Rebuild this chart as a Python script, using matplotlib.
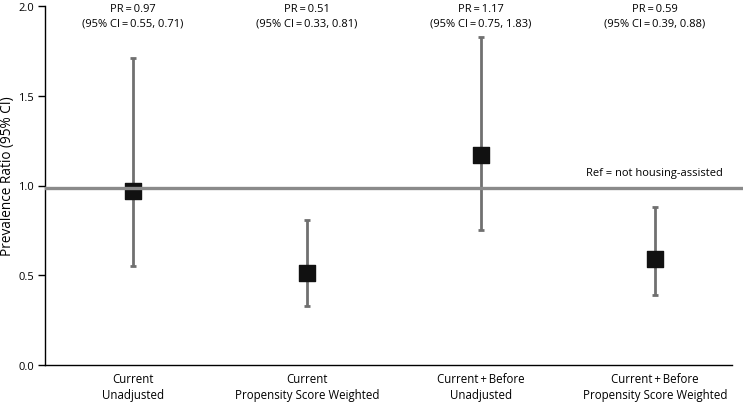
import matplotlib
matplotlib.use("Agg")
import matplotlib.pyplot as plt

categories = ["Current\nUnadjusted", "Current\nPropensity Score Weighted",
              "Current\u2009+\u2009Before\nUnadjusted", "Current\u2009+\u2009Before\nPropensity Score Weighted"]
pr = [0.97, 0.51, 1.17, 0.59]
ci_low = [0.55, 0.33, 0.75, 0.39]
ci_high = [1.71, 0.81, 1.83, 0.88]
labels = ["PR\u2009=\u20090.97\n(95% CI\u2009=\u20090.55, 0.71)", "PR\u2009=\u20090.51\n(95% CI\u2009=\u20090.33, 0.81)",
          "PR\u2009=\u20091.17\n(95% CI\u2009=\u20090.75, 1.83)", "PR\u2009=\u20090.59\n(95% CI\u2009=\u20090.39, 0.88)"]
ref_value = 0.985
yticks = [0.0, 0.5, 1.0, 1.5, 2.0]

plt.rcParams['font.family'] = ['Open Sans', 'DejaVu Sans']

fig = plt.figure(figsize=(7.45, 4.06), dpi=100)
ax = fig.add_axes([45/745, 1 - 366/406, (743-45)/745, (366-7)/406])

x = list(range(len(categories)))
yerr = [[p - l for p, l in zip(pr, ci_low)], [h - p for p, h in zip(pr, ci_high)]]
ax.errorbar(x, pr, yerr=yerr, fmt='none', ecolor='#707070', elinewidth=2.0,
            capsize=2.2, capthick=2.0, zorder=2)
ax.scatter(x, pr, marker='s', s=125, color='#111111', zorder=3)
ax.axhline(ref_value, color='#8a8a8a', lw=2.4, zorder=4)
ax.text(3.39, ref_value + 0.055, "Ref = not housing-assisted", ha='right', va='bottom',
        fontsize=8)

for xi, lab in zip(x, labels):
    ax.text(xi, 1.944, lab, ha='center', va='center', fontsize=8, linespacing=1.45,
            clip_on=False)

ax.set_xlim(-0.506, 3.506)
ax.set_ylim(0, 2.0)
ax.set_yticks(yticks)
ax.set_yticklabels([f"{v:.1f}" for v in yticks], fontsize=8)
ax.set_xticks(x)
ax.set_xticklabels(categories, fontsize=8.3, linespacing=1.3)
ax.tick_params(axis='x', length=0, pad=5)
ax.tick_params(axis='y', length=5, width=1, pad=3)
ax.spines['top'].set_visible(False)
ax.spines['right'].set_visible(False)
ax.spines['left'].set_linewidth(1.0)
ax.spines['bottom'].set_linewidth(1.0)
ax.spines['bottom'].set_bounds(-0.506, 3.44)
fig.text(8/745, 1 - 176/406, "Prevalence Ratio (95% CI)", rotation=90,
         ha='center', va='center', fontsize=9.8)

fig.savefig("out.png", dpi=100)
